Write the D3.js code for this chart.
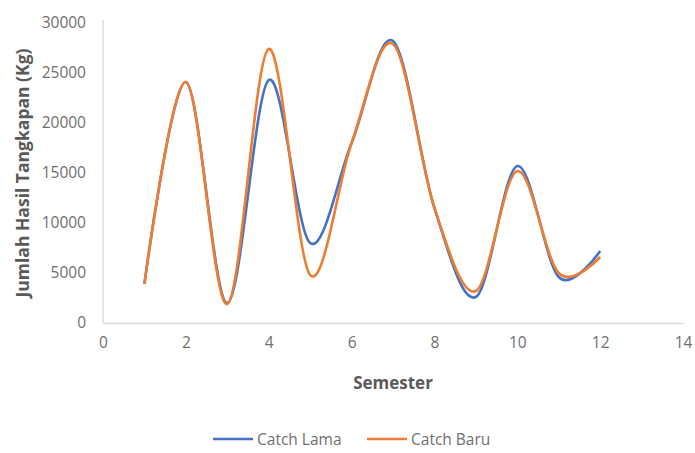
<!DOCTYPE html>
<html>
<head>
<meta charset="utf-8">
<script src="https://cdn.jsdelivr.net/npm/d3@7"></script>
<style>
  html, body { margin: 0; padding: 0; background: #fff; }
  svg { display: block; }
  text { font-family: "Open Sans", "Noto Sans", sans-serif; }
</style>
</head>
<body>
<svg id="chart" width="695" height="453"></svg>
<script>
const semesters = [1, 2, 3, 4, 5, 6, 7, 8, 9, 10, 11, 12];
const catchLama = [3900, 24100, 2000, 24300, 8000, 18000, 28200, 11500, 2600, 15700, 4600, 7200];
const catchBaru = [3900, 24100, 1900, 27400, 4800, 18000, 27900, 11500, 3200, 15200, 5000, 6600];
const xTicks = [0, 2, 4, 6, 8, 10, 12, 14];
const yTicks = [0, 5000, 10000, 15000, 20000, 25000, 30000];
const seriesNames = ["Catch Lama", "Catch Baru"];
const seriesColors = ["#4472C4", "#ED7D31"];

(function () {
const svg = d3.select("#chart");
const mLeft = 103, mRight = 683, mTop = 23, mBottom = 323;

const x = d3.scaleLinear().domain([0, 14]).range([mLeft, mRight]);
const y = d3.scaleLinear().domain([0, 30000]).range([mBottom, mTop]);

// axes
const xAxis = svg.append("g").attr("transform", `translate(0,${mBottom})`)
  .call(d3.axisBottom(x).tickValues(xTicks).tickFormat(d3.format("d")).tickSize(0).tickPadding(14));
const yAxis = svg.append("g").attr("transform", `translate(${mLeft},0)`)
  .call(d3.axisLeft(y).tickValues(yTicks).tickFormat(d3.format("d")).tickSize(0).tickPadding(17));
[xAxis, yAxis].forEach(g => {
  g.select(".domain").attr("stroke", "#d9d9d9").attr("stroke-width", 1.3);
  g.selectAll("text").attr("fill", "#6f6f6f").style("font-size", "15.5px");
});
yAxis.select(".domain").attr("d", `M0,${y(30000) - 3}V${mBottom}`);

// lines
const line = d3.line()
  .x(d => x(d[0]))
  .y(d => y(d[1]))
  .curve(d3.curveCardinal.tension(0));

[catchLama, catchBaru].forEach((vals, i) => {
  svg.append("path")
    .datum(semesters.map((s, j) => [s, vals[j]]))
    .attr("fill", "none")
    .attr("stroke", seriesColors[i])
    .attr("stroke-width", 2.6)
    .attr("stroke-linejoin", "round")
    .attr("d", line);
});

// axis titles
svg.append("text")
  .attr("x", (mLeft + mRight) / 2).attr("y", 389)
  .attr("text-anchor", "middle")
  .attr("fill", "#595959").style("font-size", "17px").style("font-weight", "bold")
  .text("Semester");
svg.append("text")
  .attr("transform", `translate(29,173) rotate(-90)`)
  .attr("text-anchor", "middle")
  .attr("fill", "#595959").style("font-size", "17.5px").style("font-weight", "bold")
  .text("Jumlah Hasil Tangkapan (Kg)");

// legend
const legendX = [213, 367];
seriesNames.forEach((name, i) => {
  const g = svg.append("g").attr("transform", `translate(${legendX[i]},439)`);
  g.append("line").attr("x1", 0).attr("x2", 40).attr("y1", 0).attr("y2", 0)
    .attr("stroke", seriesColors[i]).attr("stroke-width", 2.6);
  g.append("text").attr("x", 44).attr("y", 5.5)
    .attr("fill", "#6f6f6f").style("font-size", "15.5px")
    .text(name);
});
})();
</script>
</body>
</html>
